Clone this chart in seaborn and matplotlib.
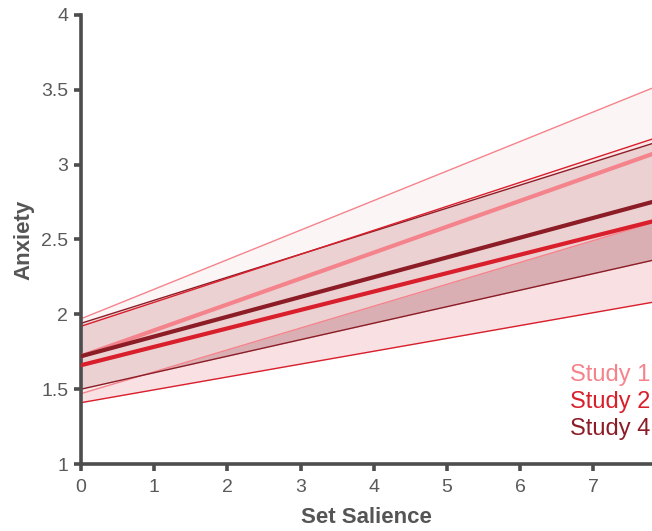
import numpy as np
import pandas as pd
import seaborn as sns
import matplotlib.pyplot as plt

sns.set_style('white')
plt.rcParams['font.family'] = ['Liberation Sans', 'DejaVu Sans']

# fitted lines at the two ends of the x range
x_ends = [0, 7.8]
studies = ['Study 1', 'Study 2', 'Study 4']
fit = {'Study 1': [1.72, 3.07], 'Study 2': [1.66, 2.62], 'Study 4': [1.72, 2.75]}
lower = {'Study 1': [1.47, 2.61], 'Study 2': [1.41, 2.08], 'Study 4': [1.50, 2.36]}
upper = {'Study 1': [1.97, 3.51], 'Study 2': [1.92, 3.17], 'Study 4': [1.94, 3.14]}

line_cols = {'Study 1': '#f4838c', 'Study 2': '#d91f2b', 'Study 4': '#8c1c26'}
# study 1 band sits on top and lightens what is underneath
fill_cols = {'Study 1': ('#fbeeee', 0.54), 'Study 2': ('#f9e0e3', 1.0), 'Study 4': ('#bd8085', 0.5)}
fill_order = ['Study 2', 'Study 4', 'Study 1']

rows = []
for s in studies:
    for i, xv in enumerate(x_ends):
        rows.append({'study': s, 'x': xv, 'fit': fit[s][i], 'lo': lower[s][i], 'hi': upper[s][i]})
df = pd.DataFrame(rows)

fig = plt.figure(figsize=(6.52, 5.31), dpi=100)
ax = fig.add_axes([0.124, 0.126, 0.876, 0.846])

for s in fill_order:
    d = df[df['study'] == s]
    c, a = fill_cols[s]
    ax.fill_between(d['x'], d['lo'], d['hi'], color=c, alpha=a, lw=0, zorder=1)
for s in ['Study 1', 'Study 4', 'Study 2']:
    d = df[df['study'] == s]
    sns.lineplot(data=d, x='x', y='lo', color=line_cols[s], lw=1, ax=ax, zorder=2)
    sns.lineplot(data=d, x='x', y='hi', color=line_cols[s], lw=1, ax=ax, zorder=2)
for s in studies:
    d = df[df['study'] == s]
    sns.lineplot(data=d, x='x', y='fit', color=line_cols[s], lw=3, ax=ax, zorder=3)

ax.set_xlim(0, 7.8)
ax.set_ylim(1, 4)
ax.set_xticks(range(0, 8))
ax.set_yticks([1, 1.5, 2, 2.5, 3, 3.5, 4])
ax.set_yticklabels(['1', '1.5', '2', '2.5', '3', '3.5', '4'])

grey = '#4d4d4d'
for sp in ['top', 'right']:
    ax.spines[sp].set_visible(False)
for sp in ['left', 'bottom']:
    ax.spines[sp].set_color(grey)
    ax.spines[sp].set_linewidth(2.6)
ax.tick_params(axis='both', direction='out', length=5, width=2.6, color=grey,
               labelsize=14, labelcolor='#5a5a5a', left=True, bottom=True)
ax.tick_params(axis='x', pad=6)
ax.tick_params(axis='y', pad=4)

ax.set_xlabel('Set Salience', fontsize=16, color='#555555', fontweight='bold', labelpad=8)
ax.set_ylabel('Anxiety', fontsize=16, color='#555555', fontweight='bold', labelpad=5)

for i, s in enumerate(studies):
    ax.text(0.998, 0.199 - i * 0.06, s, transform=ax.transAxes, ha='right', va='center',
            fontsize=17, color=line_cols[s])

plt.savefig('out.png', dpi=100)
